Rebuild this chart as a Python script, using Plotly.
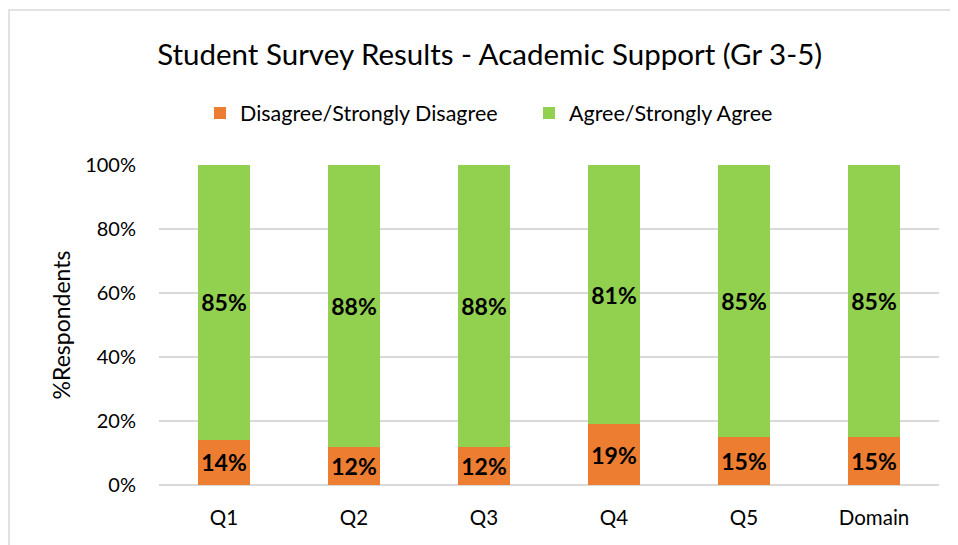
import plotly.graph_objects as go

categories = ["Q1", "Q2", "Q3", "Q4", "Q5", "Domain"]
disagree = [14, 12, 12, 19, 15, 15]
agree = [85, 88, 88, 81, 85, 85]
y_ticks = [0, 20, 40, 60, 80, 100]
y_tick_labels = ["0%", "20%", "40%", "60%", "80%", "100%"]

FONT = "Lato, Open Sans, sans-serif"

fig = go.Figure()
fig.add_trace(go.Bar(
    x=categories, y=disagree, name="Disagree/Strongly Disagree",
    marker=dict(color="#ED7D31", line=dict(width=0)),
    text=disagree, texttemplate="<b>%{text}%</b>", textposition="inside",
    insidetextanchor="middle", textangle=0,
    textfont=dict(color="black", size=23, family=FONT),
))
fig.add_trace(go.Bar(
    x=categories, y=agree, name="Agree/Strongly Agree",
    marker=dict(color="#92D050", line=dict(width=0)),
    text=agree, texttemplate="<b>%{text}%</b>", textposition="inside",
    insidetextanchor="middle", textangle=0,
    textfont=dict(color="black", size=23, family=FONT),
))

# page body has an 8px margin, so the figure is offset by (8, 8)
fig.update_layout(
    barmode="stack", barnorm="percent", bargap=0.6,
    width=950, height=537,
    margin=dict(l=151, r=19, t=157, b=60),
    paper_bgcolor="white", plot_bgcolor="white",
    font=dict(family=FONT, size=20, color="#000000"),
    uniformtext=dict(minsize=10, mode="show"),
    title=dict(text="Student Survey Results - Academic Support (Gr 3-5)",
               x=0.507, xref="container", xanchor="center",
               y=1 - 47 / 537, yanchor="middle", yref="container",
               font=dict(size=29.5, family=FONT, color="#000000")),
    legend=dict(orientation="h", x=(200 - 8 - 151) / 780, xanchor="left",
                y=1.1625, yanchor="middle",
                font=dict(size=21.5, family=FONT), itemwidth=30,
                entrywidth=284, entrywidthmode="pixels",
                traceorder="normal"),
    showlegend=True,
    xaxis=dict(showgrid=False, showline=False, ticks="", tickfont=dict(size=20.5),
               ticklabelstandoff=18),
    yaxis=dict(range=[0, 100], tickvals=y_ticks, ticktext=y_tick_labels,
               showgrid=True, gridcolor="#D9D9D9", gridwidth=1.5,
               zeroline=True, zerolinecolor="#D9D9D9", zerolinewidth=1.5,
               ticks="", tickfont=dict(size=20), ticklabelstandoff=22,
               title=dict(text="%Respondents", font=dict(size=23), standoff=8)),
)

fig.add_shape(type="rect", xref="paper", yref="paper",
              x0=(1 - 151) / 780, x1=(1000 - 151) / 780,
              y0=-0.5, y1=1 + (157 - 2) / 320,
              line=dict(color="#D9D9D9", width=1.5), layer="below")

fig.write_html("out.html")
